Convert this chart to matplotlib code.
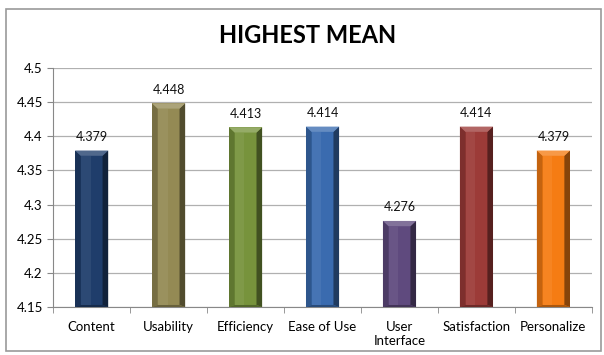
import matplotlib.pyplot as plt
import matplotlib.colors as mcolors
from matplotlib.patches import Polygon, Rectangle
import numpy as np

plt.rcParams['font.family'] = ['Lato', 'DejaVu Sans']

categories = ['Content', 'Usability', 'Efficiency', 'Ease of Use', 'User\nInterface', 'Satisfaction', 'Personalize']
means = [4.379, 4.448, 4.413, 4.414, 4.276, 4.414, 4.379]
labels = ['4.379', '4.448', '4.413', '4.414', '4.276', '4.414', '4.379']
colors = ['#1F3D6B', '#948A54', '#77933C', '#3A6BAF', '#5F4A7E', '#9C3B38', '#F57C13']

ymin, ymax = 4.15, 4.5


def shade(c, f):
    r, g, b = mcolors.to_rgb(c)
    if f < 1:
        return (r * f, g * f, b * f)
    f = f - 1
    return (r + (1 - r) * f, g + (1 - g) * f, b + (1 - b) * f)


fig = plt.figure(figsize=(6.04, 3.55), dpi=100)
# outer chart frame
fig.patches.append(Rectangle((0.01, 0.01), 0.985, 0.965, transform=fig.transFigure,
                             fill=False, edgecolor='#9a9a9a', linewidth=1.2))
ax = fig.add_axes([0.088, 0.135, 0.892, 0.674])

x = np.arange(len(categories))
w = 0.43
ax.bar(x, np.array(means) - ymin, bottom=ymin, width=w, color=colors, zorder=2)

# bevel look: darker sides, lighter top
for xi, v, c in zip(x, means, colors):
    l, r = xi - w / 2, xi + w / 2
    e = w * 0.17
    dy = (ymax - ymin) * 0.022
    ax.add_patch(Polygon([[r - e, ymin + dy * 0.4], [r, ymin], [r, v], [r - e, v - dy]],
                         closed=True, color=shade(c, 0.55), zorder=3, lw=0))
    ax.add_patch(Polygon([[l, ymin], [l + e, ymin + dy * 0.4], [l + e, v - dy], [l, v]],
                         closed=True, color=shade(c, 0.8), zorder=3, lw=0))
    ax.add_patch(Polygon([[l, v], [r, v], [r - e, v - dy], [l + e, v - dy]],
                         closed=True, color=shade(c, 1.22), zorder=3, lw=0))
    ax.add_patch(Polygon([[l, ymin], [r, ymin], [r - e, ymin + dy * 0.4], [l + e, ymin + dy * 0.4]],
                         closed=True, color=shade(c, 0.7), zorder=3, lw=0))
    ax.add_patch(Rectangle((l + e, ymin + dy * 0.4), (w - 2 * e) * 0.45, v - dy - ymin - dy * 0.4,
                           color=shade(c, 1.06), zorder=3, lw=0))

for xi, v, t in zip(x, means, labels):
    ax.text(xi, v + 0.011, t, ha='center', va='bottom', fontsize=9, color='#111111')

ax.set_ylim(ymin, ymax)
ax.set_xlim(-0.5, len(categories) - 0.5)
ax.set_yticks(np.arange(4.15, 4.501, 0.05))
ax.set_yticklabels(['4.15', '4.2', '4.25', '4.3', '4.35', '4.4', '4.45', '4.5'])
ax.set_xticks(x)
ax.set_xticklabels(categories, fontsize=9.5)
ax.set_xticks(np.arange(-0.5, len(categories)), minor=True)
ax.tick_params(axis='x', which='major', length=0, pad=10)
ax.tick_params(axis='x', which='minor', length=4, color='#888888')
ax.tick_params(axis='y', length=4, color='#888888', labelsize=9.5)
ax.grid(axis='y', color='#b0b0b0', linewidth=0.9, zorder=0)
ax.set_axisbelow(True)
for s in ['top', 'right']:
    ax.spines[s].set_visible(False)
ax.spines['left'].set_color('#888888')
ax.spines['bottom'].set_color('#888888')

fig.text(0.51, 0.9, 'HIGHEST MEAN', ha='center', va='center', fontsize=17, fontweight='bold')

fig.savefig('out.png', dpi=100)
